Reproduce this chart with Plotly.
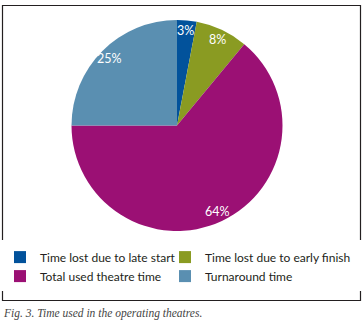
import numpy as np
import plotly.graph_objects as go

categories = ["Time lost due to late start", "Time lost due to early finish",
              "Total used theatre time", "Turnaround time"]
values = [3, 8, 64, 25]
colors = ["#02529b", "#8a9b22", "#9b1074", "#5a8fb1"]

W, H = 363, 325
cx, cy, r = 177, 125.5, 105.5

fig = go.Figure(go.Pie(
    labels=categories, values=values, sort=False, direction="clockwise",
    rotation=0,
    marker=dict(colors=colors, line=dict(width=0)),
    textinfo="none",
    domain=dict(x=[(cx - r) / W, (cx + r) / W], y=[1 - (cy + r) / H, 1 - (cy - r) / H]),
    hoverinfo="label+percent",
))

# percentage labels placed along each slice's bisector (derived from the data)
vals = np.array(values, dtype=float)
frac = vals / vals.sum()
mid = np.cumsum(frac) - frac / 2
ang = np.pi / 2 - mid * 2 * np.pi
rf = 0.9 * r
annotations = []
for f, a in zip(frac, ang):
    annotations.append(dict(
        text=f"{round(f * 100)}%", xref="paper", yref="paper",
        x=(cx + rf * np.cos(a)) / W, y=1 - (cy - rf * np.sin(a)) / H,
        xanchor="center", yanchor="middle", showarrow=False,
        font=dict(family="Lato", size=12.5, color="white")))

annotations.append(dict(text="<i>Fig. 3. Time used in the operating theatres.</i>",
                        xref="paper", yref="paper", x=1 / W, y=1 - 313 / H,
                        xanchor="left", yanchor="middle", showarrow=False,
                        font=dict(family="Liberation Serif", size=11.5, color="#444444")))

fig.update_layout(
    width=W, height=H, margin=dict(l=0, r=0, t=0, b=0, autoexpand=False),
    paper_bgcolor="white", plot_bgcolor="white",
    showlegend=True,
    legend=dict(orientation="h", x=0, y=1 - 240 / H, xanchor="left", yanchor="top",
                entrywidth=120, entrywidthmode="pixels", traceorder="normal",
                title=dict(text="&nbsp;" * 700, side="top", font=dict(size=2)),
                font=dict(family="Lato", size=12, color="#231f20")),
    font=dict(family="Lato"),
    shapes=[dict(type="rect", xref="paper", yref="paper",
                 x0=2.5 / W, x1=360.5 / W, y0=1 - 300.5 / H, y1=1 - 5.5 / H,
                 line=dict(color="#231f20", width=1.2), fillcolor="rgba(0,0,0,0)")],
    annotations=annotations,
)

fig.write_html("out.html", config=dict(displayModeBar=False),
               post_script="document.body.style.margin='0';document.body.style.overflow='hidden';")
